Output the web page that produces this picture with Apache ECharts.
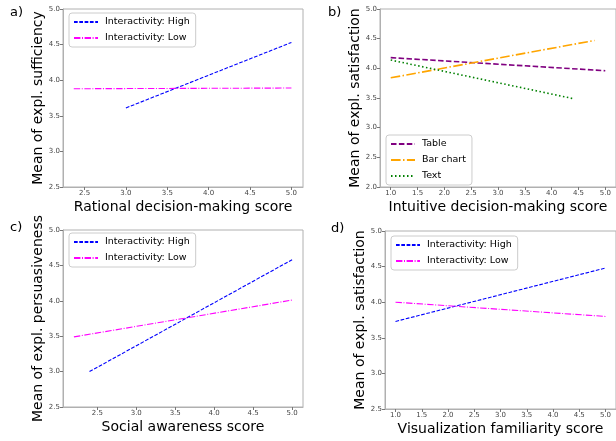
<!DOCTYPE html>
<html>
<head>
<meta charset="utf-8">
<script src="https://cdn.jsdelivr.net/npm/echarts@6/dist/echarts.min.js"></script>
<style>html,body{margin:0;padding:0;background:#fff;}#c{width:616px;height:441px;}</style>
</head>
<body>
<div id="c"></div>
<script>
// ---- data ----
const aHighX = [3.0, 5.0], aHighY = [3.61, 4.53];
const aLowX = [2.37, 5.0], aLowY = [3.88, 3.89];
const bTableX = [1.0, 5.0], bTableY = [4.18, 3.96];
const bBarX = [1.0, 4.8], bBarY = [3.84, 4.47];
const bTextX = [1.0, 4.4], bTextY = [4.14, 3.49];
const cHighX = [2.4, 5.0], cHighY = [3.0, 4.58];
const cLowX = [2.2, 5.0], cLowY = [3.49, 4.01];
const dHighX = [1.0, 5.0], dHighY = [3.73, 4.48];
const dLowX = [1.0, 5.0], dLowY = [4.0, 3.80];

const xTicksAC = [2.5, 3.0, 3.5, 4.0, 4.5, 5.0];
const xTicksBD = [1.0, 1.5, 2.0, 2.5, 3.0, 3.5, 4.0, 4.5, 5.0];
const yTicksACD = [2.5, 3.0, 3.5, 4.0, 4.5, 5.0];
const yTicksB = [2.0, 2.5, 3.0, 3.5, 4.0, 4.5, 5.0];

const xTitles = ['Rational decision-making score', 'Intuitive decision-making score', 'Social awareness score', 'Visualization familiarity score'];
const yTitles = ['Mean of expl. sufficiency', 'Mean of expl. satisfaction', 'Mean of expl. persuasiveness', 'Mean of expl. satisfaction'];
const panelLabels = ['a)', 'b)', 'c)', 'd)'];
const legendA = ['Interactivity: High', 'Interactivity: Low'];
const legendB = ['Table', 'Bar chart', 'Text'];

const zip = (xs, ys) => xs.map((x, i) => [x, ys[i]]);

const FONT = 'DejaVu Sans';
const grids = [
  {left: 63, top: 9, width: 240, height: 178},
  {left: 380, top: 9, width: 240, height: 178},
  {left: 63, top: 230, width: 240, height: 177},
  {left: 385, top: 231, width: 240, height: 178}
];
const xExt = [[2.24, 5.14], [0.8, 5.2], [2.06, 5.14], [0.8, 5.2]];
const yExt = [[2.5, 5.0], [2.0, 5.0], [2.5, 5.0], [2.5, 5.0]];
const xTicks = [xTicksAC, xTicksBD, xTicksAC, xTicksBD];
const yTicks = [yTicksACD, yTicksB, yTicksACD, yTicksACD];

const xAxes = grids.map((g, i) => ({
  type: 'value', gridIndex: i, min: xExt[i][0], max: xExt[i][1],
  name: xTitles[i], nameLocation: 'middle', nameGap: 13,
  nameTextStyle: {fontFamily: FONT, fontSize: 14, color: '#000'},
  axisLine: {show: true, onZero: false, lineStyle: {color: '#b0b0b0', width: 1}},
  axisTick: {show: true, length: 3, lineStyle: {color: '#777'}, customValues: xTicks[i]},
  axisLabel: {fontFamily: FONT, fontSize: 7, color: '#444', margin: 3, customValues: xTicks[i], formatter: v => v.toFixed(1)},
  splitLine: {show: false}
}));
const yAxes = grids.map((g, i) => ({
  type: 'value', gridIndex: i, min: yExt[i][0], max: yExt[i][1],
  name: yTitles[i], nameLocation: 'middle', nameGap: 18,
  nameTextStyle: {fontFamily: FONT, fontSize: 14, color: '#000'},
  axisLine: {show: true, onZero: false, lineStyle: {color: '#b0b0b0', width: 1}},
  axisTick: {show: true, length: 3, lineStyle: {color: '#777'}, customValues: yTicks[i]},
  axisLabel: {fontFamily: FONT, fontSize: 7, color: '#444', margin: 3, customValues: yTicks[i], formatter: v => v.toFixed(1)},
  splitLine: {show: false}
}));

const DASH = [3.7, 1.6], DASHDOT = [6.4, 1.6, 1, 1.6];
function ln(name, gi, data, color, type, width) {
  return {type: 'line', name: name, xAxisIndex: gi, yAxisIndex: gi, data: data,
    symbol: 'none', showSymbol: false, silent: true, animation: false,
    lineStyle: {color: color, type: type, width: width}, itemStyle: {color: color}};
}
const series = [
  ln(legendA[0], 0, zip(aHighX, aHighY), '#0000ff', DASH, 1.1),
  ln(legendA[1], 0, zip(aLowX, aLowY), '#ff00ff', DASHDOT, 1.1),
  ln(legendB[0], 1, zip(bTableX, bTableY), '#800080', [5.5, 2.4], 1.6),
  ln(legendB[1], 1, zip(bBarX, bBarY), '#ffa500', [9.6, 2.4, 1.5, 2.4], 1.6),
  ln(legendB[2], 1, zip(bTextX, bTextY), '#008000', [1.5, 2.5], 1.6),
  ln(legendA[0], 2, zip(cHighX, cHighY), '#0000ff', DASH, 1.1),
  ln(legendA[1], 2, zip(cLowX, cLowY), '#ff00ff', DASHDOT, 1.1),
  ln(legendA[0], 3, zip(dHighX, dHighY), '#0000ff', DASH, 1.1),
  ln(legendA[1], 3, zip(dLowX, dLowY), '#ff00ff', DASHDOT, 1.1)
];

function leg(data, left, top, gap) {
  return {data: data, left: left, top: top, orient: 'vertical', itemWidth: 24, itemHeight: 8, itemGap: gap,
    backgroundColor: '#fff', borderColor: '#ccc', borderWidth: 1, borderRadius: 3, padding: [4, 6, 4, 4],
    itemStyle: {opacity: 0, borderWidth: 0},
    selectedMode: false, textStyle: {fontFamily: FONT, fontSize: 9.5, color: '#000', padding: [0, 0, 0, 2]}};
}

const titlePos = [[10, 6], [328, 6], [10, 221], [331, 222]];
const option = {
  animation: false,
  grid: grids.map(g => Object.assign({show: true, borderColor: '#b0b0b0', borderWidth: 1, backgroundColor: 'transparent'}, g)),
  xAxis: xAxes,
  yAxis: yAxes,
  title: panelLabels.map((t, i) => ({text: t, left: titlePos[i][0], top: titlePos[i][1], padding: 0,
    textStyle: {fontFamily: FONT, fontSize: 13, fontWeight: 'normal', color: '#000'}})),
  legend: [leg(legendA, 69, 13, 6), leg(legendB, 386, 135, 6), leg(legendA, 69, 233, 6), leg(legendA, 391, 236, 6)],
  series: series
};
echarts.init(document.getElementById('c'), null, {renderer: 'canvas'}).setOption(option);
</script>
</body>
</html>
